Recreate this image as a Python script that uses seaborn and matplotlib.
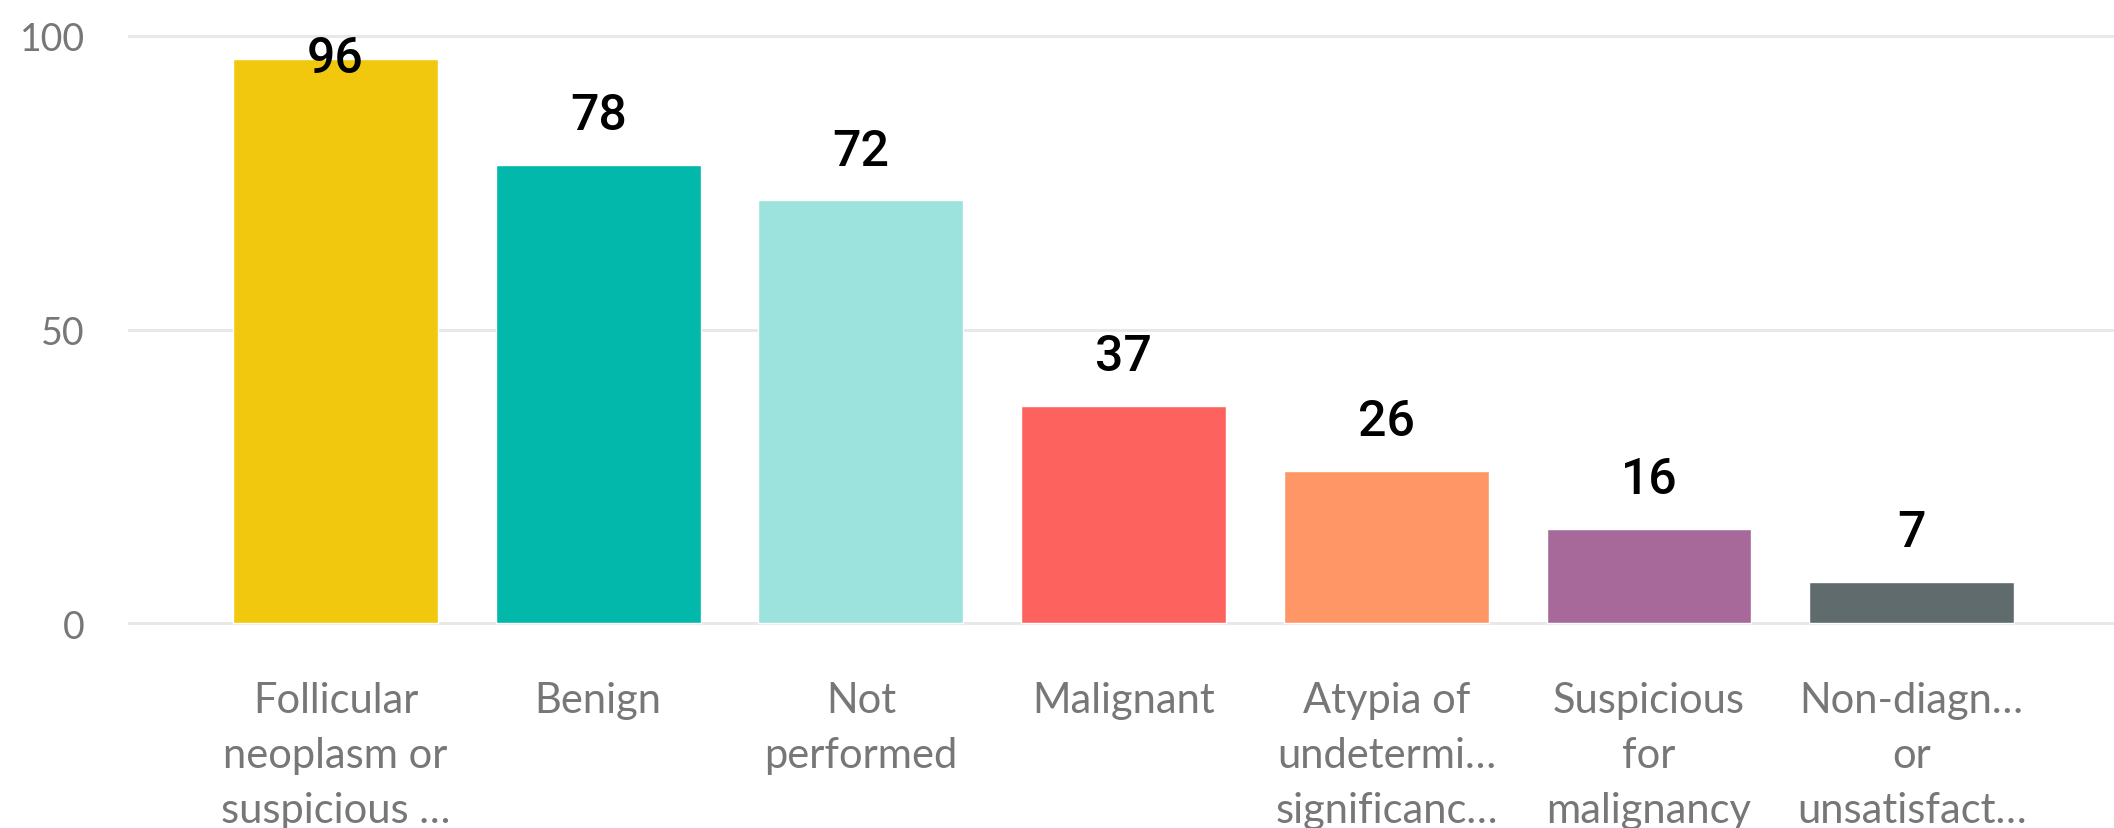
import numpy as np
import pandas as pd
import matplotlib
matplotlib.use("Agg")
import matplotlib.pyplot as plt
import seaborn as sns

# data
categories = ["Follicular\nneoplasm or\nsuspicious …", "Benign", "Not\nperformed", "Malignant",
              "Atypia of\nundetermi…\nsignificanc…", "Suspicious\nfor\nmalignancy",
              "Non-diagn…\nor\nunsatisfact…"]
counts = [96, 78, 72, 37, 26, 16, 7]
bar_colors = ["#F2C80F", "#01B8AA", "#9BE3DC", "#FD625E", "#FE9666", "#A66999", "#5F6B6D"]
yticks = [0, 50, 100]

df = pd.DataFrame({"cat": categories, "n": counts})

sns.set_style("white")
plt.rcParams['font.family'] = ['Lato', 'DejaVu Sans']

fig = plt.figure(figsize=(21.14, 8.29), dpi=100)
ax = fig.add_axes([128 / 2114, 1 - 626 / 829, 1 - 128 / 2114, 626 / 829])

sns.barplot(data=df, x="cat", y="n", hue="cat", palette=bar_colors, legend=False,
            width=0.78, saturation=1, ax=ax, zorder=3)

ax.set_xlim(-0.79, 6.77)
ax.set_ylim(-0.3, 106.3)
ax.set_yticks(yticks)
ax.yaxis.grid(True, color="#E8E8E8", linewidth=2.2, zorder=0)
ax.set_xlabel("")
ax.set_ylabel("")
for s in ax.spines.values():
    s.set_visible(False)

ax.tick_params(axis="y", length=0, pad=31, labelsize=27, labelcolor="#777777")
ax.tick_params(axis="x", length=0, pad=40, labelsize=30, labelcolor="#777777")
for t in ax.get_xticklabels():
    t.set_linespacing(1.55)
    t.set_ha("center")

# value labels above bars (kept inside the plot when no room above)
for i, v in enumerate(counts):
    yy = v + 8.5
    if yy > 100:
        yy = v + 0.2
    ax.text(i, yy, str(v), ha="center", va="center", fontsize=36, fontweight="medium",
            family=["Roboto", "DejaVu Sans"], color="black", zorder=4)

plt.savefig("out.png", dpi=100)
